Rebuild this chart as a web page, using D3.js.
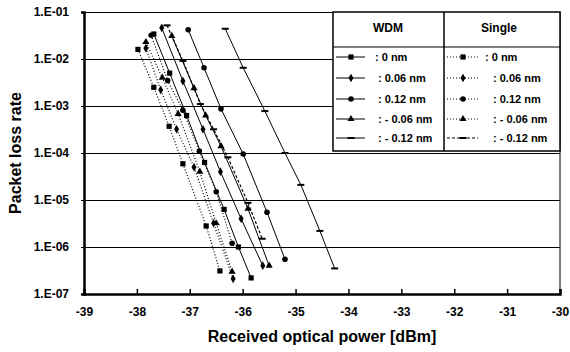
<!DOCTYPE html>
<html>
<head>
<meta charset="utf-8">
<script src="https://cdn.jsdelivr.net/npm/d3@7"></script>
<style>
  body { margin: 0; background: #fff; }
  text { font-family: "Liberation Sans", Arial, sans-serif; font-weight: bold; fill: #000; }
</style>
</head>
<body>
<svg id="chart" width="570" height="352"></svg>
<script>
var w = 570, h = 352;
var margin = {left: 84, right: 10, top: 12, bottom: 58};

// x ticks and y ticks
var xTicks = [-39, -38, -37, -36, -35, -34, -33, -32, -31, -30];
var yTicks = [1e-1, 1e-2, 1e-3, 1e-4, 1e-5, 1e-6, 1e-7];
var yTickLabels = ["1.E-01", "1.E-02", "1.E-03", "1.E-04", "1.E-05", "1.E-06", "1.E-07"];

// WDM series (received power dBm, packet loss rate)
var wdm0Power   = [-37.68, -37.38, -37.06, -36.72, -36.35, -36.08, -35.84];
var wdm0Loss    = [3.4e-2, 5.0e-3, 6.3e-4, 6.3e-5, 6.3e-6, 1.0e-6, 2.2e-7];
var wdm006Power = [-37.53, -37.13, -36.75, -36.42, -36.03, -35.62];
var wdm006Loss  = [4.6e-2, 3.4e-3, 3.2e-4, 4.0e-5, 4.0e-6, 4.0e-7];
var wdm012Power = [-37.03, -36.73, -36.41, -35.99, -35.54, -35.20];
var wdm012Loss  = [4.2e-2, 6.5e-3, 8.7e-4, 9.5e-5, 5.5e-6, 5.5e-7];
var wdmM006Power = [-37.34, -36.92, -36.70, -36.41, -35.90, -35.50];
var wdmM006Loss  = [3.1e-2, 2.4e-3, 6.3e-4, 1.4e-4, 6.5e-6, 4.0e-7];
var wdmM012Power = [-36.33, -35.99, -35.58, -35.20, -34.90, -34.54, -34.26];
var wdmM012Loss  = [4.4e-2, 6.5e-3, 7.8e-4, 1.0e-4, 2.1e-5, 2.2e-6, 3.5e-7];

// Single series
var sgl0Power   = [-37.98, -37.68, -37.39, -37.13, -36.69, -36.43];
var sgl0Loss    = [1.6e-2, 2.5e-3, 3.7e-4, 5.9e-5, 2.8e-6, 3.1e-7];
var sgl006Power = [-37.83, -37.55, -37.25, -36.92, -36.55, -36.18];
var sgl006Loss  = [1.7e-2, 2.2e-3, 3.2e-4, 5.0e-5, 3.2e-6, 2.1e-7];
var sgl012Power = [-37.73, -37.42, -37.13, -36.82, -36.50, -36.20];
var sgl012Loss  = [3.2e-2, 3.5e-3, 8.1e-4, 1.1e-4, 1.5e-5, 1.2e-6];
var sglM006Power = [-37.83, -37.52, -37.22, -36.81, -36.50, -36.20];
var sglM006Loss  = [2.3e-2, 4.0e-3, 6.8e-4, 4.0e-5, 3.2e-6, 3.0e-7];
var sglM012Power = [-37.43, -37.13, -36.80, -36.55, -36.28, -35.90, -35.63];
var sglM012Loss  = [5.2e-2, 9.1e-3, 1.1e-3, 3.2e-4, 8.1e-5, 8.7e-6, 1.5e-6];

var legendLabels = [": 0 nm", ": 0.06 nm", ": 0.12 nm", ": - 0.06 nm", ": - 0.12 nm"];
var markers = ["square", "diamond", "circle", "triangle", "dash"];

var wdm = [
  {x: wdm0Power, y: wdm0Loss}, {x: wdm006Power, y: wdm006Loss}, {x: wdm012Power, y: wdm012Loss},
  {x: wdmM006Power, y: wdmM006Loss}, {x: wdmM012Power, y: wdmM012Loss}
];
var single = [
  {x: sgl0Power, y: sgl0Loss}, {x: sgl006Power, y: sgl006Loss}, {x: sgl012Power, y: sgl012Loss},
  {x: sglM006Power, y: sglM006Loss}, {x: sglM012Power, y: sglM012Loss}
];
var singleDash = ["1,2", "1,2", "1,2", "1,2", "3,2"];

var svg = d3.select("#chart");

var x = d3.scaleLinear().domain([-39, -30]).range([margin.left, w - margin.right]);
var y = d3.scaleLog().domain([1e-7, 1e-1]).range([h - margin.bottom, margin.top]);

// gridlines
svg.append("g")
  .selectAll("line")
  .data(yTicks.slice(0, 6))
  .enter()
  .append("line")
  .attr("x1", x(-39)).attr("x2", x(-30))
  .attr("y1", function(d){ return Math.round(y(d)) + 0.5; })
  .attr("y2", function(d){ return Math.round(y(d)) + 0.5; })
  .attr("stroke", "#000")
  .attr("stroke-width", 1);

// right border
svg.append("line")
  .attr("x1", x(-30)).attr("x2", x(-30))
  .attr("y1", y(1e-1)).attr("y2", y(1e-7))
  .attr("stroke", "#000").attr("stroke-width", 1);

// x axis
var xAxis = d3.axisBottom(x).tickValues(xTicks).tickSize(-5).tickPadding(13)
  .tickFormat(function(d){ return String(d); });
var gx = svg.append("g")
  .attr("transform", "translate(0," + y(1e-7) + ")")
  .call(xAxis);
gx.select(".domain").attr("stroke-width", 2.5);
gx.selectAll(".tick line").attr("stroke-width", 1.5);
gx.selectAll("text").style("font-size", "12px").attr("font-family", null);

// y axis
var yAxis = d3.axisLeft(y).tickValues(yTicks).tickSize(3).tickPadding(12)
  .tickFormat(function(d, i){ return yTickLabels[i]; });
var gy = svg.append("g")
  .attr("transform", "translate(" + x(-39) + ",0)")
  .call(yAxis);
gy.select(".domain").attr("stroke-width", 2.5);
gy.selectAll("text").style("font-size", "12px").attr("font-family", null);

// axis titles
svg.append("text")
  .attr("x", 322).attr("y", 342)
  .attr("text-anchor", "middle")
  .style("font-size", "16px")
  .text("Received optical power [dBm]");

svg.append("text")
  .attr("transform", "translate(21," + ((y(1e-1) + y(1e-7)) / 2) + ") rotate(-90)")
  .attr("text-anchor", "middle")
  .style("font-size", "16px")
  .text("Packet loss rate");

// markers
function drawMarker(g, type, cx, cy) {
  if (type == "square") {
    g.append("rect").attr("x", cx - 2.6).attr("y", cy - 2.6).attr("width", 5.2).attr("height", 5.2).attr("fill", "#000");
  } else if (type == "diamond") {
    g.append("path").attr("d", d3.symbol().type(d3.symbolDiamond).size(22)()).attr("transform", "translate(" + cx + "," + cy + ")").attr("fill", "#000");
  } else if (type == "circle") {
    g.append("circle").attr("cx", cx).attr("cy", cy).attr("r", 2.8).attr("fill", "#000");
  } else if (type == "triangle") {
    g.append("path").attr("d", d3.symbol().type(d3.symbolTriangle).size(22)()).attr("transform", "translate(" + cx + "," + cy + ")").attr("fill", "#000");
  } else {
    g.append("rect").attr("x", cx - 3.5).attr("y", cy - 1).attr("width", 7).attr("height", 2).attr("fill", "#000");
  }
}

var line = d3.line()
  .x(function(d){ return x(d[0]); })
  .y(function(d){ return y(d[1]); });

function drawSeries(s, type, dash) {
  var pts = s.x.map(function(v, i){ return [v, s.y[i]]; });
  var g = svg.append("g");
  g.append("path")
    .attr("d", line(pts))
    .attr("fill", "none")
    .attr("stroke", "#000")
    .attr("stroke-width", dash ? 1.2 : 1)
    .attr("stroke-dasharray", dash);
  pts.forEach(function(p){ drawMarker(g, type, x(p[0]), y(p[1])); });
}

single.forEach(function(s, i){ drawSeries(s, markers[i], singleDash[i]); });
wdm.forEach(function(s, i){ drawSeries(s, markers[i], null); });

// legend table
var lg = svg.append("g");
var lx0 = 333, lx1 = 444, lx2 = x(-30), ly0 = y(1e-1), ly1 = 47, ly2 = 151;
lg.append("rect").attr("x", lx0).attr("y", ly0).attr("width", lx2 - lx0).attr("height", ly2 - ly0)
  .attr("fill", "#fff").attr("stroke", "#000").attr("stroke-width", 1.5);
lg.append("line").attr("x1", lx1).attr("x2", lx1).attr("y1", ly0).attr("y2", ly2).attr("stroke", "#000").attr("stroke-width", 1.5);
lg.append("line").attr("x1", lx0).attr("x2", lx2).attr("y1", ly1).attr("y2", ly1).attr("stroke", "#000").attr("stroke-width", 1);

lg.append("text").attr("x", 388).attr("y", 32).attr("text-anchor", "middle").style("font-size", "12px").text("WDM");
lg.append("text").attr("x", 499).attr("y", 32).attr("text-anchor", "middle").style("font-size", "12px").text("Single");

var rowY = [57, 78, 99, 119, 138];
legendLabels.forEach(function(lbl, i){
  var yy = rowY[i];
  lg.append("line").attr("x1", 336).attr("x2", 365).attr("y1", yy).attr("y2", yy).attr("stroke", "#000").attr("stroke-width", 1);
  drawMarker(lg, markers[i], 351, yy);
  lg.append("text").attr("x", i == 0 ? 375 : 378).attr("y", yy + 4).style("font-size", "11px").text(lbl);

  lg.append("line").attr("x1", 447).attr("x2", 478).attr("y1", yy).attr("y2", yy)
    .attr("stroke", "#000").attr("stroke-width", 1.2).attr("stroke-dasharray", singleDash[i]);
  drawMarker(lg, markers[i], 463, yy);
  lg.append("text").attr("x", i == 0 ? 485 : 493).attr("y", yy + 4).style("font-size", "11px").text(lbl);
});
</script>
</body>
</html>
